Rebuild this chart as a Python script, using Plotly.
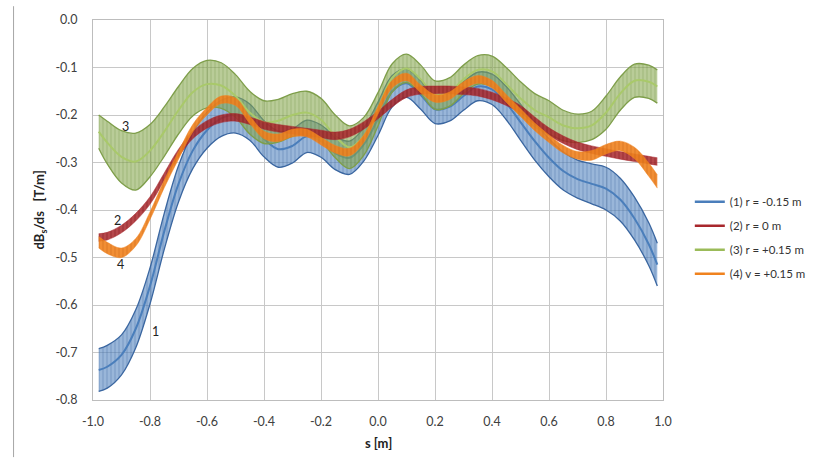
import numpy as np
import plotly.graph_objects as go

# Position along the path s [m]
s = [-0.98, -0.95, -0.90, -0.85, -0.80, -0.75, -0.70, -0.65, -0.60, -0.55,
     -0.50, -0.45, -0.40, -0.35, -0.30, -0.25, -0.20, -0.15, -0.10, -0.05,
     0.00, 0.05, 0.10, 0.15, 0.20, 0.25, 0.30, 0.35, 0.40, 0.45,
     0.50, 0.55, 0.60, 0.65, 0.70, 0.75, 0.80, 0.85, 0.90, 0.95, 0.98]

# (1) r = -0.15 m : mean gradient and half-width of the uncertainty band
g1 = [-0.737, -0.730, -0.705, -0.650, -0.560, -0.445, -0.345, -0.275, -0.232, -0.207,
      -0.200, -0.215, -0.250, -0.272, -0.265, -0.245, -0.255, -0.280, -0.290, -0.262,
      -0.208, -0.150, -0.133, -0.158, -0.188, -0.183, -0.160, -0.140, -0.146, -0.175,
      -0.215, -0.255, -0.290, -0.318, -0.335, -0.345, -0.355, -0.378, -0.418, -0.472, -0.515]
e1 = [0.045, 0.045, 0.042, 0.040, 0.038, 0.038, 0.038, 0.038, 0.038, 0.038,
      0.038, 0.038, 0.038, 0.038, 0.036, 0.034, 0.034, 0.035, 0.035, 0.035,
      0.035, 0.033, 0.030, 0.030, 0.030, 0.030, 0.030, 0.030, 0.032, 0.035,
      0.038, 0.040, 0.040, 0.040, 0.040, 0.042, 0.045, 0.045, 0.045, 0.045, 0.045]

# (2) r = 0 m
g2 = [-0.458, -0.455, -0.440, -0.415, -0.380, -0.330, -0.280, -0.242, -0.220, -0.208,
      -0.205, -0.212, -0.222, -0.228, -0.232, -0.236, -0.240, -0.244, -0.238, -0.222,
      -0.200, -0.175, -0.155, -0.148, -0.147, -0.147, -0.149, -0.152, -0.160, -0.172,
      -0.188, -0.212, -0.235, -0.252, -0.265, -0.273, -0.279, -0.285, -0.290, -0.295, -0.298]
e2 = [0.008] * len(s)

# (3) r = +0.15 m
g3 = [-0.235, -0.258, -0.288, -0.298, -0.275, -0.235, -0.190, -0.152, -0.135, -0.138,
      -0.160, -0.195, -0.215, -0.212, -0.200, -0.195, -0.210, -0.245, -0.268, -0.245,
      -0.188, -0.122, -0.102, -0.125, -0.158, -0.152, -0.125, -0.105, -0.108, -0.135,
      -0.165, -0.190, -0.205, -0.222, -0.228, -0.222, -0.195, -0.155, -0.128, -0.130, -0.140]
e3 = [0.035, 0.045, 0.055, 0.060, 0.055, 0.052, 0.050, 0.050, 0.050, 0.048,
      0.045, 0.045, 0.045, 0.045, 0.045, 0.045, 0.045, 0.045, 0.045, 0.040,
      0.035, 0.030, 0.030, 0.030, 0.030, 0.030, 0.030, 0.030, 0.032, 0.035,
      0.035, 0.035, 0.035, 0.032, 0.030, 0.030, 0.035, 0.035, 0.035, 0.035, 0.035]

# (4) v = +0.15 m
g4 = [-0.468, -0.480, -0.490, -0.468, -0.412, -0.345, -0.285, -0.228, -0.192, -0.168,
      -0.172, -0.210, -0.242, -0.248, -0.238, -0.238, -0.255, -0.272, -0.278, -0.250,
      -0.190, -0.135, -0.120, -0.145, -0.165, -0.160, -0.138, -0.125, -0.135, -0.165,
      -0.195, -0.225, -0.250, -0.272, -0.285, -0.285, -0.272, -0.265, -0.280, -0.315, -0.340]
e4 = [0.012, 0.012, 0.010, 0.008, 0.008, 0.008, 0.008, 0.008, 0.008, 0.008,
      0.008, 0.008, 0.008, 0.008, 0.008, 0.008, 0.008, 0.008, 0.008, 0.008,
      0.008, 0.008, 0.008, 0.008, 0.008, 0.008, 0.008, 0.008, 0.008, 0.008,
      0.008, 0.008, 0.008, 0.008, 0.008, 0.010, 0.010, 0.010, 0.012, 0.014, 0.014]

names = ["(1) r = -0.15 m", "(2) r = 0 m", "(3) r = +0.15 m", "(4) v = +0.15 m"]
x_ticks = [-1.0, -0.8, -0.6, -0.4, -0.2, 0.0, 0.2, 0.4, 0.6, 0.8, 1.0]
y_ticks = [0.0, -0.1, -0.2, -0.3, -0.4, -0.5, -0.6, -0.7, -0.8]

# curve labels: text, s, value
curve_labels = [("1", -0.78, -0.655), ("2", -0.915, -0.423),
                ("3", -0.885, -0.224), ("4", -0.902, -0.514)]

styles = [
    dict(line="#4A7EBB", edge="#3A66A0", fill="rgba(79,129,189,0.58)",
         hatch="rgba(50,90,150,0.55)", lw=2.0),
    dict(line="#A8272C", edge="#A8272C", fill="rgba(168,39,44,0.85)",
         hatch="rgba(120,20,25,0.8)", lw=3.0),
    dict(line="#A9C96A", edge="#7E9E4A", fill="rgba(135,168,78,0.58)",
         hatch="rgba(95,130,50,0.5)", lw=2.0),
    dict(line="#F0821E", edge="#F0821E", fill="rgba(240,130,30,0.9)",
         hatch="rgba(200,100,20,0.8)", lw=3.0),
]

fig = go.Figure()
series = [(g1, e1), (g2, e2), (g3, e3), (g4, e4)]

# uncertainty bands (hatched fill between upper and lower bounds)
band_order = [0, 2, 1, 3]
for i in band_order:
    g, e = series[i]
    st = styles[i]
    g = np.array(g)
    e = np.array(e)
    upper = g + e
    lower = g - e
    edge_w = 1.3 if i in (0, 2) else 0.5
    fig.add_trace(go.Scatter(x=s, y=upper, mode="lines",
                             line=dict(color=st["edge"], width=edge_w, shape="spline"),
                             showlegend=False, hoverinfo="skip"))
    fig.add_trace(go.Scatter(x=s, y=lower, mode="lines",
                             line=dict(color=st["edge"], width=edge_w, shape="spline"),
                             fill="tonexty", fillcolor=st["fill"],
                             fillpattern=dict(shape="|", size=4, solidity=0.3,
                                              fgcolor=st["hatch"], bgcolor=st["fill"]),
                             showlegend=False, hoverinfo="skip"))
    if i in (0, 2):
        fig.add_trace(go.Scatter(x=s, y=g, mode="lines",
                                 line=dict(color=st["line"], width=st["lw"], shape="spline"),
                                 showlegend=False, hoverinfo="skip"))

# legend entries
for i, name in enumerate(names):
    st = styles[i]
    fig.add_trace(go.Scatter(x=[None], y=[None], mode="lines", name=name,
                             legendgroup=str(i),
                             line=dict(color=st["line"] if i != 2 else "#9BBB59", width=2.5)))

for txt, xs, ys in curve_labels:
    fig.add_annotation(x=xs, y=ys, text=txt, showarrow=False,
                       font=dict(family="Lato", size=12.5, color="#222222"))

plot_l, plot_r, plot_t, plot_b = 93, 667, 14, 400
W, H = 823, 458
pw, ph = plot_r - plot_l, plot_b - plot_t

def px_x(px):
    return (px - plot_l) / pw

def px_y(py):
    return (plot_b - py) / ph

fig.add_annotation(xref="paper", yref="paper", x=px_x(29), y=0.5,
                   text="<b>dB<sub>s</sub>/ds   [T/m]</b>", textangle=-90,
                   showarrow=False, font=dict(family="Lato", size=13, color="#222222"))
fig.add_annotation(xref="paper", yref="paper", x=0.5, y=px_y(444),
                   text="<b>s [m]</b>", showarrow=False, yanchor="middle",
                   font=dict(family="Lato", size=13, color="#222222"))

# outer chart frame edge
fig.add_shape(type="line", xref="paper", yref="paper",
              x0=px_x(13), x1=px_x(13), y0=px_y(0), y1=px_y(H),
              line=dict(color="#A6A6A6", width=1))

fig.update_layout(
    width=W, height=H,
    margin=dict(l=plot_l, r=W - plot_r, t=plot_t, b=H - plot_b),
    paper_bgcolor="white", plot_bgcolor="white",
    font=dict(family="Lato", size=12, color="#404040"),
    showlegend=True,
    legend=dict(x=px_x(694), y=px_y(184), xanchor="left", yanchor="top",
                font=dict(family="Lato", size=11.5, color="#333333"),
                tracegroupgap=5, itemwidth=30, bgcolor="rgba(0,0,0,0)"),
    xaxis=dict(range=[-1.0, 1.0], tickvals=x_ticks,
               ticktext=[f"{v:.1f}" for v in x_ticks],
               showgrid=True, gridcolor="#C8C8C8", gridwidth=1,
               zeroline=False, showline=True, linecolor="#BDBDBD", mirror=True,
               ticks="", ticklabelstandoff=10,
               tickfont=dict(family="Lato", size=12.5, color="#404040")),
    yaxis=dict(range=[-0.8, 0.0], tickvals=y_ticks,
               ticktext=[f"{v:.1f}" for v in y_ticks],
               showgrid=True, gridcolor="#C8C8C8", gridwidth=1,
               zeroline=False, showline=True, linecolor="#BDBDBD", mirror=True,
               ticks="", ticklabelstandoff=12,
               tickfont=dict(family="Lato", size=12.5, color="#404040")),
)

fig.write_html("out.html")
